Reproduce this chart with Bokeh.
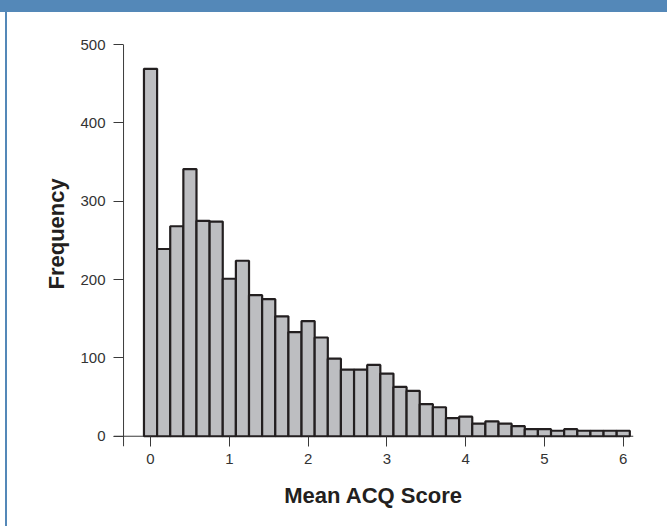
from bokeh.plotting import figure
from bokeh.models import Span, Div, Range1d, FixedTicker, Title
from bokeh.layouts import column, row
from bokeh.embed import file_html
from bokeh.resources import INLINE

# ---- data ----
bin_centers = [0.0, 0.1667, 0.3333, 0.5, 0.6667, 0.8333,
               1.0, 1.1667, 1.3333, 1.5, 1.6667, 1.8333,
               2.0, 2.1667, 2.3333, 2.5, 2.6667, 2.8333,
               3.0, 3.1667, 3.3333, 3.5, 3.6667, 3.8333,
               4.0, 4.1667, 4.3333, 4.5, 4.6667, 4.8333,
               5.0, 5.1667, 5.3333, 5.5, 5.6667, 5.8333, 6.0]
frequency = [469, 239, 268, 341, 275, 274,
             201, 224, 180, 175, 153, 133,
             147, 126, 99, 85, 85, 91,
             80, 63, 58, 41, 37, 23,
             25, 16, 19, 16, 13, 9,
             9, 7, 9, 7, 7, 7, 7]
bin_width = 0.1667
x_ticks = [0, 1, 2, 3, 4, 5, 6]
y_ticks = [0, 100, 200, 300, 400, 500]
x_title = "Mean ACQ Score"
y_title = "Frequency"

BLUE = "#5488B8"
AXIS = "#3a3a3a"
FONT = "Liberation Sans"

p = figure(width=660, height=514, output_backend="svg", toolbar_location=None,
           x_range=Range1d(-0.47, 6.13), y_range=Range1d(-13.1, 500),
           min_border_left=106, min_border_right=34,
           min_border_top=32, min_border_bottom=80)
p.outline_line_color = None
p.grid.visible = False
p.background_fill_color = "white"
p.border_fill_color = "white"

p.vbar(x=bin_centers, top=frequency, bottom=0, width=bin_width,
       fill_color="#BDBEC1", line_color="#231F20", line_width=2.2)

# axis lines crossing each other
p.add_layout(Span(location=0, dimension="width", line_color=AXIS, line_width=1, level="underlay"))
p.add_layout(Span(location=-0.3426, dimension="height", line_color=AXIS, line_width=1, level="underlay"))

xa = p.xaxis[0]
xa.ticker = FixedTicker(ticks=x_ticks)
xa.axis_line_color = None
xa.major_tick_in = 10
xa.major_tick_out = 0
xa.major_tick_line_color = AXIS
xa.minor_tick_line_color = None
xa.major_label_standoff = 7
xa.major_label_text_font = FONT
xa.major_label_text_font_size = "15px"
xa.major_label_text_color = "#333333"
xa.axis_label = x_title
xa.axis_label_text_font = FONT
xa.axis_label_text_font_style = "bold"
xa.axis_label_text_font_size = "22px"
xa.axis_label_text_color = "#231F20"
xa.axis_label_standoff = 16

ya = p.yaxis[0]
ya.ticker = FixedTicker(ticks=y_ticks)
ya.axis_line_color = None
ya.major_tick_in = 10
ya.major_tick_out = 0
ya.major_tick_line_color = AXIS
ya.minor_tick_line_color = None
ya.major_label_standoff = 8
ya.major_label_text_font = FONT
ya.major_label_text_font_size = "15px"
ya.major_label_text_color = "#333333"

# y title as a side title, placed a little above the frame's centre
p.add_layout(Title(text=y_title, align="left", offset=157, standoff=17,
                   text_font=FONT, text_font_style="bold",
                   text_font_size="22px", text_color="#231F20"), "left")

header = Div(width=667, height=12, margin=0, styles={"background-color": BLUE})
pad = Div(width=5, height=514, margin=0)
edge = Div(width=2, height=514, margin=0, styles={"background-color": BLUE})
layout = column(header, row(pad, edge, p, spacing=0), spacing=0)

open("out.html", "w").write(file_html(layout, INLINE))
